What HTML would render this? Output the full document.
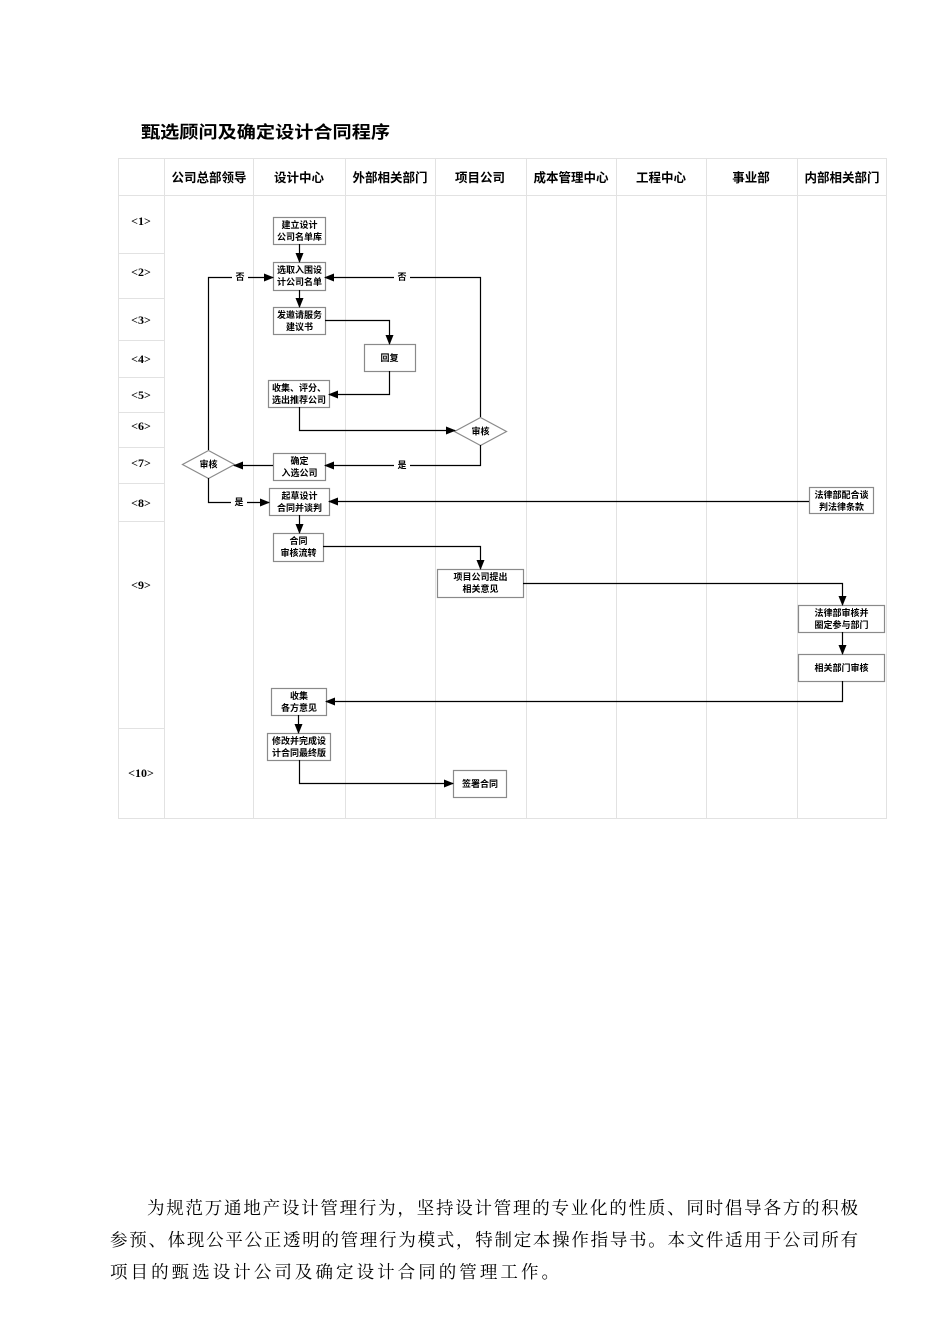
<!DOCTYPE html>
<html><head><meta charset="utf-8"><style>
html,body{margin:0;padding:0;background:#fff;}
svg{display:block;}
</style></head><body>
<svg width="950" height="1344" viewBox="0 0 950 1344" xmlns="http://www.w3.org/2000/svg">
<defs>
<marker id="a" markerWidth="10" markerHeight="10" refX="9" refY="4" orient="auto" markerUnits="userSpaceOnUse">
<path d="M0,0 L10,4 L0,8 z" fill="#000"/>
</marker>
</defs>
<text x="141" y="138" font-family="'Liberation Sans','Noto Sans CJK SC',sans-serif" font-size="17" font-weight="bold" textLength="249" lengthAdjust="spacingAndGlyphs">甄选顾问及确定设计合同程序</text>

<g stroke="#e2e2e2" stroke-width="1" fill="none">
<rect x="118.5" y="158.5" width="768" height="660"/>
<line x1="118" y1="195.5" x2="887" y2="195.5"/>
<line x1="164.5" y1="158" x2="164.5" y2="819"/>
<line x1="253.5" y1="158" x2="253.5" y2="819"/>
<line x1="345.5" y1="158" x2="345.5" y2="819"/>
<line x1="435.5" y1="158" x2="435.5" y2="819"/>
<line x1="526.5" y1="158" x2="526.5" y2="819"/>
<line x1="616.5" y1="158" x2="616.5" y2="819"/>
<line x1="706.5" y1="158" x2="706.5" y2="819"/>
<line x1="797.5" y1="158" x2="797.5" y2="819"/>
<line x1="118" y1="253.5" x2="164" y2="253.5"/>
<line x1="118" y1="298.5" x2="164" y2="298.5"/>
<line x1="118" y1="340.5" x2="164" y2="340.5"/>
<line x1="118" y1="377.5" x2="164" y2="377.5"/>
<line x1="118" y1="412.5" x2="164" y2="412.5"/>
<line x1="118" y1="447.5" x2="164" y2="447.5"/>
<line x1="118" y1="483.5" x2="164" y2="483.5"/>
<line x1="118" y1="521.5" x2="164" y2="521.5"/>
<line x1="118" y1="728.5" x2="164" y2="728.5"/>
</g>

<g font-family="'Liberation Sans','Noto Sans CJK SC',sans-serif" font-size="12.5" font-weight="bold" text-anchor="middle" fill="#000">
<text x="209" y="182">公司总部领导</text>
<text x="299" y="182">设计中心</text>
<text x="390" y="182">外部相关部门</text>
<text x="480" y="182">项目公司</text>
<text x="571" y="182">成本管理中心</text>
<text x="661" y="182">工程中心</text>
<text x="751" y="182">事业部</text>
<text x="842" y="182">内部相关部门</text>
</g>
<g font-family="'Liberation Serif',serif" font-size="12" font-weight="bold" text-anchor="middle">
<text x="141" y="225">&lt;1&gt;</text>
<text x="141" y="276">&lt;2&gt;</text>
<text x="141" y="324">&lt;3&gt;</text>
<text x="141" y="363">&lt;4&gt;</text>
<text x="141" y="399">&lt;5&gt;</text>
<text x="141" y="430">&lt;6&gt;</text>
<text x="141" y="467">&lt;7&gt;</text>
<text x="141" y="507">&lt;8&gt;</text>
<text x="141" y="589">&lt;9&gt;</text>
<text x="141" y="777">&lt;10&gt;</text>
</g>

<g fill="#fff" stroke="#8a8a8a" stroke-width="1.2">
<rect x="273.5" y="217.5" width="52" height="27"/>
<rect x="273.5" y="262.5" width="52" height="28"/>
<rect x="273.5" y="307.5" width="52" height="27"/>
<rect x="364.5" y="344.5" width="51" height="27"/>
<rect x="268.5" y="380.5" width="61" height="27"/>
<polygon points="480.5,417.5 506.5,431.5 480.5,445.5 454.5,431.5"/>
<rect x="273.5" y="453.5" width="52" height="27"/>
<polygon points="208.5,450.5 234.5,464.5 208.5,478.5 182.5,464.5"/>
<rect x="269.5" y="488.5" width="60" height="27"/>
<rect x="273.5" y="533.5" width="50" height="28"/>
<rect x="437.5" y="569.5" width="86" height="28"/>
<rect x="809.5" y="487.5" width="64" height="26"/>
<rect x="798.5" y="605.5" width="86" height="27"/>
<rect x="798.5" y="654.5" width="86" height="27"/>
<rect x="271.5" y="688.5" width="55" height="27"/>
<rect x="267.5" y="733.5" width="63" height="27"/>
<rect x="453.5" y="770.5" width="53" height="27"/>
</g>

<g fill="none" stroke="#000" stroke-width="1.2" marker-end="url(#a)">
<path d="M299.5,244 V262"/>
<path d="M299.5,290 V307"/>
<path d="M325,320.5 H389.5 V344"/>
<path d="M389.5,371 V394.5 H329"/>
<path d="M299.5,407 V430.5 H455"/>
<path d="M480.5,417 V277.5 H325"/>
<path d="M480.5,445 V465.5 H325"/>
<path d="M273,465.5 H234"/>
<path d="M208.5,450 V277.5 H273"/>
<path d="M208.5,478 V502.5 H269"/>
<path d="M809,501.5 H329"/>
<path d="M299.5,515 V533"/>
<path d="M323,546.5 H480.5 V569"/>
<path d="M523,583.5 H842.5 V605"/>
<path d="M842.5,632 V654"/>
<path d="M842.5,681 V701.5 H326"/>
<path d="M298.5,715 V733"/>
<path d="M299.5,760 V783.5 H453"/>
</g>

<g font-family="'Liberation Sans','Noto Sans CJK SC',sans-serif" font-size="9" font-weight="bold" text-anchor="middle" fill="#000">
<rect x="394" y="271" width="16" height="12" fill="#fff"/>
<text x="402" y="280">否</text>
<rect x="232" y="271" width="16" height="12" fill="#fff"/>
<text x="240" y="280">否</text>
<rect x="394" y="459" width="16" height="12" fill="#fff"/>
<text x="402" y="468">是</text>
<rect x="231" y="496" width="16" height="12" fill="#fff"/>
<text x="239" y="505">是</text>

<text x="299.5" y="228">建立设计</text>
<text x="299.5" y="240">公司名单库</text>
<text x="299.5" y="273">选取入围设</text>
<text x="299.5" y="285">计公司名单</text>
<text x="299.5" y="318">发邀请服务</text>
<text x="299.5" y="330">建议书</text>
<text x="389.5" y="361">回复</text>
<text x="299" y="391">收集、评分、</text>
<text x="299" y="403">选出推荐公司</text>
<text x="480.5" y="434.5">审核</text>
<text x="299.5" y="464">确定</text>
<text x="299.5" y="476">入选公司</text>
<text x="208.5" y="467.5">审核</text>
<text x="299.5" y="499">起草设计</text>
<text x="299.5" y="511">合同并谈判</text>
<text x="298.5" y="544">合同</text>
<text x="298.5" y="556">审核流转</text>
<text x="480.5" y="580">项目公司提出</text>
<text x="480.5" y="592">相关意见</text>
<text x="841.5" y="498">法律部配合谈</text>
<text x="841.5" y="510">判法律条款</text>
<text x="841.5" y="616">法律部审核并</text>
<text x="841.5" y="628">圈定参与部门</text>
<text x="841.5" y="671">相关部门审核</text>
<text x="299" y="699">收集</text>
<text x="299" y="711">各方意见</text>
<text x="299" y="744">修改并完成设</text>
<text x="299" y="756">计合同最终版</text>
<text x="480" y="787">签署合同</text>
</g>

<g font-family="'Liberation Serif','Noto Serif CJK SC',serif" font-size="17.5" fill="#000">
<text x="147" y="1214" textLength="711" lengthAdjust="spacing">为规范万通地产设计管理行为，坚持设计管理的专业化的性质、同时倡导各方的积极</text>
<text x="110" y="1246" textLength="748" lengthAdjust="spacing">参预、体现公平公正透明的管理行为模式，特制定本操作指导书。本文件适用于公司所有</text>
<text x="110" y="1278" textLength="449" lengthAdjust="spacing">项目的甄选设计公司及确定设计合同的管理工作。</text>
</g>
</svg>
</body></html>
